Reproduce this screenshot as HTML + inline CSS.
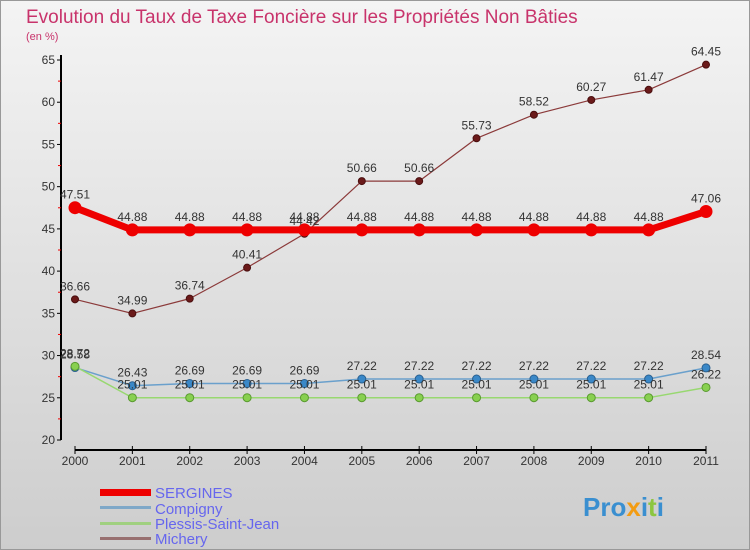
<!DOCTYPE html>
<html><head><meta charset="utf-8"><style>
body{margin:0;width:750px;height:550px;overflow:hidden;font-family:"Liberation Sans",sans-serif}
svg{display:block}
</style></head><body>
<svg width="750" height="550" xmlns="http://www.w3.org/2000/svg">
<defs><linearGradient id="bg" x1="0" y1="0" x2="0" y2="1"><stop offset="0" stop-color="#f4f4f4"/><stop offset="1" stop-color="#cdcdcd"/></linearGradient></defs>
<rect x="0" y="0" width="750" height="550" fill="url(#bg)"/>
<rect x="0.5" y="0.5" width="749" height="549" fill="none" stroke="#999"/>
<text x="26" y="23" font-size="19" fill="#c8336b">Evolution du Taux de Taxe Foncière sur les Propriétés Non Bâties</text>
<text x="26" y="40" font-size="11" fill="#c8336b">(en %)</text>
<g id="axes"></g>
<g id="series"></g>
<g id="legend">
<rect x="100" y="489" width="51" height="7" fill="#e00"/>
<text x="155" y="498" font-size="15" fill="#6666ee">SERGINES</text>
<rect x="100" y="506" width="51" height="3" fill="#7fa8c8"/>
<text x="155" y="514" font-size="15" fill="#6666ee">Compigny</text>
<rect x="100" y="522" width="51" height="3" fill="#a0d080"/>
<text x="155" y="529" font-size="15" fill="#6666ee">Plessis-Saint-Jean</text>
<rect x="100" y="537" width="51" height="3" fill="#987070"/>
<text x="155" y="544" font-size="15" fill="#6666ee">Michery</text>
</g>
<text x="583" y="516" font-size="26" font-weight="bold" fill="#3a8fd0">Pro<tspan fill="#f39c12">x</tspan>i<tspan fill="#8cc63f">t</tspan>i</text>
</svg>
<script>
const years=["2000","2001","2002","2003","2004","2005","2006","2007","2008","2009","2010","2011"];
const yTicks=[20,25,30,35,40,45,50,55,60,65];
const sergines=[47.51,44.88,44.88,44.88,44.88,44.88,44.88,44.88,44.88,44.88,44.88,47.06];
const compigny=[28.58,26.43,26.69,26.69,26.69,27.22,27.22,27.22,27.22,27.22,27.22,28.54];
const plessis=[28.72,25.01,25.01,25.01,25.01,25.01,25.01,25.01,25.01,25.01,25.01,26.22];
const michery=[36.66,34.99,36.74,40.41,44.42,50.66,50.66,55.73,58.52,60.27,61.47,64.45];
const NS="http://www.w3.org/2000/svg";
const x=i=>75+i*(706-75)/(years.length-1);
const y=v=>440-(v-20)*(440-60)/45;
function mk(tag,attrs,parent){const e=document.createElementNS(NS,tag);for(const k in attrs)e.setAttribute(k,attrs[k]);parent.appendChild(e);return e;}
const ax=document.getElementById('axes');
let l=mk('line',{x1:61,y1:55,x2:61,y2:440,stroke:'#000','stroke-width':2},ax);


yTicks.forEach((t,i)=>{
 mk('line',{x1:57,y1:y(t),x2:61,y2:y(t),stroke:'#000'},ax);
 if(i<yTicks.length-1)mk('line',{x1:58,y1:y(t+2.5),x2:61,y2:y(t+2.5),stroke:'#e00'},ax);
 const tx=mk('text',{x:55,y:y(t)+4,'font-size':12,'text-anchor':'end',fill:'#333'},ax);
 tx.textContent=t;
 
 
});
l=mk('line',{x1:75,y1:450,x2:706,y2:450,stroke:'#000','stroke-width':2},ax);


years.forEach((yr,i)=>{
 mk('line',{x1:x(i),y1:446,x2:x(i),y2:454,stroke:'#000'},ax);
 const tx=mk('text',{x:x(i),y:465,'font-size':12,'text-anchor':'middle',fill:'#333'},ax);
 tx.textContent=yr;
 
 
});
const sg=document.getElementById('series');
function draw(vals,name,color,w,r,fill,stroke){
 const g=mk('g',{},sg);
 
 
 const p=mk('polyline',{points:vals.map((v,i)=>x(i)+','+y(v)).join(' '),fill:'none',stroke:color,'stroke-width':w,'stroke-linejoin':'round'},g);
 
 
 vals.forEach((v,i)=>{
  const c=mk('circle',{cx:x(i),cy:y(v),r:r,fill:fill,stroke:stroke},g);
  
  
  const t=mk('text',{x:x(i),y:y(v)-9,'font-size':12,'text-anchor':'middle',fill:'#333'},g);
  t.textContent=String(v);
  
  
 });
}
draw(michery,'michery','#8b3a3a',1.2,3.5,'#6b1a1a','#4a0f0f');
draw(compigny,'compigny','#6aa0cc',1.5,4,'#3a88c8','#2a6090');
draw(plessis,'plessis-saint-jean','#98d870',1.5,4,'#88d050','#5a9a30');
draw(sergines,'sergines','#ee0000',7,6,'#ee0000','#ee0000');
</script>
</body></html>
